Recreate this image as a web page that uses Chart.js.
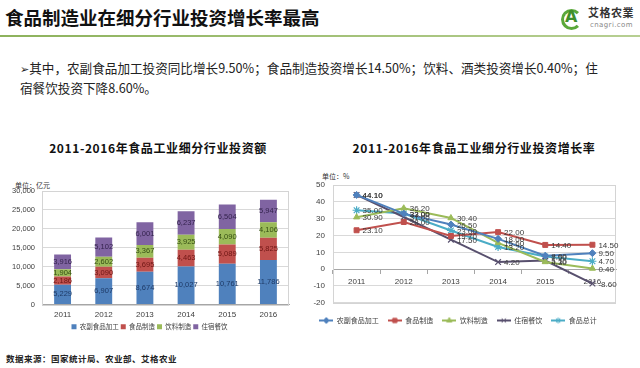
<!DOCTYPE html>
<html>
<head>
<meta charset="utf-8">
<script src="https://cdn.jsdelivr.net/npm/chart.js@4/dist/chart.umd.min.js"></script>
<style>
body { margin: 0; width: 640px; height: 368px; background: #fff; position: relative; overflow: hidden;
  font-family: "Noto Sans CJK SC", "Noto Sans", sans-serif; }
.abs { position: absolute; white-space: nowrap; }
#title { left: 5px; top: 4px; font-size: 18.5px; font-weight: bold; color: #111; }
#rule { left: 0; top: 35px; width: 640px; height: 2px; background: linear-gradient(to right, #8db25c, #b7cf92); }
#bullet { left: 20px; top: 59px; font-size: 12.6px; line-height: 18px; color: #222; }
#bullet .arr { font-family: "DejaVu Sans"; font-size: 11px; }
.ctitle { top: 139px; font-size: 12px; font-weight: bold; color: #111; letter-spacing: 0.6px; transform: translateX(-50%); }
.unit { font-size: 7px; color: #333; }
#source { left: 6px; top: 352px; font-size: 8.5px; font-weight: bold; color: #222; letter-spacing: 0.5px; }
#logoC { left: 561px; top: 9px; width: 15px; height: 15px; border: 3px solid #5aa83a; border-radius: 50%;
  border-right-color: transparent; }
#logoA { left: 565px; top: 7px; font: bold 16px "DejaVu Sans"; color: #3f8f2b; }
#logoT { left: 588px; top: 4px; font-size: 11px; font-weight: bold; color: #333; letter-spacing: 0.5px; }
#logoU { left: 590px; top: 21px; font: 7px "DejaVu Sans"; color: #888; letter-spacing: 0.4px; }
canvas { position: absolute; }
#barChart { left: 0; top: 175px; }
#lineChart { left: 300px; top: 170px; }
</style>
</head>
<body>
<div class="abs" id="title">食品制造业在细分行业投资增长率最高</div>
<div class="abs" id="logoC"></div>
<div class="abs" id="logoA">A</div>
<div class="abs" id="logoT">艾格农業</div>
<div class="abs" id="logoU">cnagri.com</div>
<div class="abs" id="rule"></div>
<div class="abs" id="bullet"><span class="arr">➢</span>其中，农副食品加工投资同比增长9.50%；食品制造投资增长14.50%；饮料、酒类投资增长0.40%；住<br>宿餐饮投资下降8.60%。</div>
<div class="abs ctitle" style="left:158px">2011-2016年食品工业细分行业投资额</div>
<div class="abs ctitle" style="left:474px">2011-2016年食品工业细分行业投资增长率</div>
<div class="abs unit" style="left:15px;top:180px">单位：亿元</div>
<div class="abs unit" style="left:322px;top:171px">单位：%</div>
<canvas id="barChart" width="300" height="165"></canvas>
<canvas id="lineChart" width="340" height="164"></canvas>
<div class="abs" id="source">数据来源：国家统计局、农业部、艾格农业</div>

<script>
const years = ["2011", "2012", "2013", "2014", "2015", "2016"];

// 投资额（亿元）
const amountNames = ["农副食品加工", "食品制造", "饮料制造", "住宿餐饮"];
const agriProc = [5229, 6907, 8674, 10027, 10761, 11786];
const foodMfg = [2186, 3090, 3695, 4463, 5089, 5825];
const beverage = [1904, 2602, 3367, 3925, 4090, 4106];
const catering = [3916, 5102, 6001, 6237, 6504, 5947];

// 投资增长率（%）
const growthNames = ["农副食品加工", "食品制造", "饮料制造", "住宿餐饮", "食品总计"];
const agriGrowth = [44.10, 33.00, 26.50, 18.00, 8.00, 9.50];
const foodGrowth = [23.10, 28.00, 19.70, 22.00, 14.40, 14.50];
const bevGrowth = [30.90, 36.20, 30.40, 15.60, 4.30, 0.40];
const caterGrowth = [44.10, 31.00, 17.50, 4.20, 5.10, -8.60];
const totalGrowth = [35.00, 33.00, 23.00, 13.20, 7.50, 4.70];

function $(id) { return document.getElementById(id); }
function fmt(n) { return n.toLocaleString("en-US"); }

const axisFont = { family: "Liberation Sans", size: 8 };

const frame = {
  id: "frame",
  beforeDatasetsDraw(c) {
    const a = c.chartArea, ctx = c.ctx;
    ctx.save();
    ctx.strokeStyle = "#d4d4d4";
    ctx.lineWidth = 1;
    ctx.strokeRect(Math.round(a.left) + 0.5, Math.round(a.top) + 0.5,
      Math.round(a.right - a.left) - 1, Math.round(a.bottom - a.top));
    ctx.restore();
  }
};

// values written in the middle of each stacked segment
const barLabels = {
  id: "barLabels",
  afterDatasetsDraw(c) {
    const ctx = c.ctx;
    ctx.save();
    ctx.font = "7.5px 'Liberation Sans'";
    ctx.textAlign = "center";
    ctx.textBaseline = "middle";
    c.data.datasets.forEach((ds, i) => {
      c.getDatasetMeta(i).data.forEach((el, j) => {
        ctx.fillStyle = ds.labelColor;
        ctx.fillText(fmt(ds.data[j]), el.x, (el.y + el.base) / 2);
      });
    });
    ctx.restore();
  }
};

// values written to the right of each point
const pointLabels = {
  id: "pointLabels",
  afterDatasetsDraw(c) {
    const ctx = c.ctx;
    ctx.save();
    ctx.font = "8px 'Liberation Sans'";
    ctx.textAlign = "left";
    ctx.textBaseline = "middle";
    ctx.fillStyle = "#3a3a3a";
    c.data.datasets.forEach((ds, i) => {
      c.getDatasetMeta(i).data.forEach((el, j) => {
        ctx.fillText(ds.data[j].toFixed(2), el.x + 6, el.y + 1);
      });
    });
    ctx.restore();
  }
};

new Chart($("barChart"), {
  type: "bar",
  data: {
    labels: years,
    datasets: [
      { label: amountNames[0], data: agriProc, backgroundColor: "#4f81bd", labelColor: "#1e3a66" },
      { label: amountNames[1], data: foodMfg, backgroundColor: "#c0504d", labelColor: "#6e1614" },
      { label: amountNames[2], data: beverage, backgroundColor: "#9bbb59", labelColor: "#344d12" },
      { label: amountNames[3], data: catering, backgroundColor: "#8064a2", labelColor: "#33234d" }
    ]
  },
  options: {
    responsive: false,
    animation: false,
    layout: { padding: { top: 16, right: 11, left: 10, bottom: 0 } },
    datasets: { bar: { categoryPercentage: 1, barPercentage: 0.41 } },
    plugins: {
      legend: {
        position: "bottom",
        labels: { boxWidth: 5, boxHeight: 5, padding: 2, color: "#404040",
          font: { family: "Noto Sans CJK SC", size: 6.5 } }
      },
      tooltip: { enabled: false }
    },
    scales: {
      x: {
        stacked: true,
        grid: { display: false, drawTicks: false, tickLength: 0 },
        border: { color: "#a6a6a6" },
        ticks: { color: "#404040", font: axisFont, padding: 5 },
        afterFit(s) { s.height = 17; }
      },
      y: {
        stacked: true, min: 0, max: 30000,
        grid: { color: "#d9d9d9", drawTicks: false },
        border: { color: "#a6a6a6" },
        ticks: { stepSize: 5000, color: "#404040", font: { family: "Liberation Sans", size: 7.5 }, padding: 7,
          callback: v => fmt(v) },
        afterFit(s) { s.width = 32; }
      }
    }
  },
  plugins: [frame, barLabels]
});

const lineColors = ["#4f81bd", "#c0504d", "#9bbb59", "#58506e", "#4bacc6"];
const lineMarkers = ["rectRot", "rect", "triangle", "crossRot", "star"];

function legendIcon(color, style) {
  const cv = document.createElement("canvas");
  cv.width = 14; cv.height = 8;
  const g = cv.getContext("2d");
  g.strokeStyle = color; g.fillStyle = color; g.lineWidth = 2;
  g.beginPath(); g.moveTo(0, 4); g.lineTo(14, 4); g.stroke();
  g.lineWidth = 1;
  Chart.helpers.drawPoint(g, { pointStyle: style, radius: 3, borderWidth: 1, rotation: 0 }, 7, 4);
  return cv;
}
const icons = lineColors.map((c, i) => legendIcon(c, lineMarkers[i]));

const growthSeries = [agriGrowth, foodGrowth, bevGrowth, caterGrowth, totalGrowth];

new Chart($("lineChart"), {
  type: "line",
  data: {
    labels: years,
    datasets: growthSeries.map((d, i) => ({
      label: growthNames[i],
      data: d,
      borderColor: lineColors[i],
      backgroundColor: lineColors[i],
      borderWidth: 2,
      pointStyle: lineMarkers[i],
      pointRadius: i === 3 || i === 4 ? 4 : 3.5,
      pointBorderWidth: i === 3 || i === 4 ? 1.2 : 1,
      tension: 0
    }))
  },
  options: {
    responsive: false,
    animation: false,
    layout: { padding: { top: 15, right: 24, left: 0, bottom: 0 } },
    plugins: {
      legend: {
        position: "bottom",
        title: { display: true, text: " ", font: { size: 1 }, padding: { top: 0, bottom: 4 } },
        labels: {
          usePointStyle: true, pointStyleWidth: 14, boxHeight: 8, padding: 9,
          color: "#404040", font: { family: "Noto Sans CJK SC", size: 7 },
          generateLabels(c) {
            return c.data.datasets.map((ds, i) => ({
              text: ds.label, pointStyle: icons[i], fillStyle: ds.borderColor,
              strokeStyle: ds.borderColor, lineWidth: 0, hidden: false, datasetIndex: i, fontColor: "#404040"
            }));
          }
        }
      },
      tooltip: { enabled: false }
    },
    scales: {
      x: {
        position: { y: 0 },
        offset: true,
        grid: { drawOnChartArea: false, drawTicks: true, tickLength: 4, color: "#a6a6a6", offset: true },
        border: { color: "#a6a6a6" },
        ticks: { color: "#404040", font: axisFont, padding: 4 }
      },
      y: {
        min: -20, max: 50,
        grid: { color: "#d9d9d9", drawTicks: false },
        border: { color: "#a6a6a6" },
        ticks: { stepSize: 10, color: "#404040", font: axisFont, padding: 8 },
        afterFit(s) { s.width = 33; }
      }
    }
  },
  plugins: [frame, pointLabels]
});
</script>
</body>
</html>
